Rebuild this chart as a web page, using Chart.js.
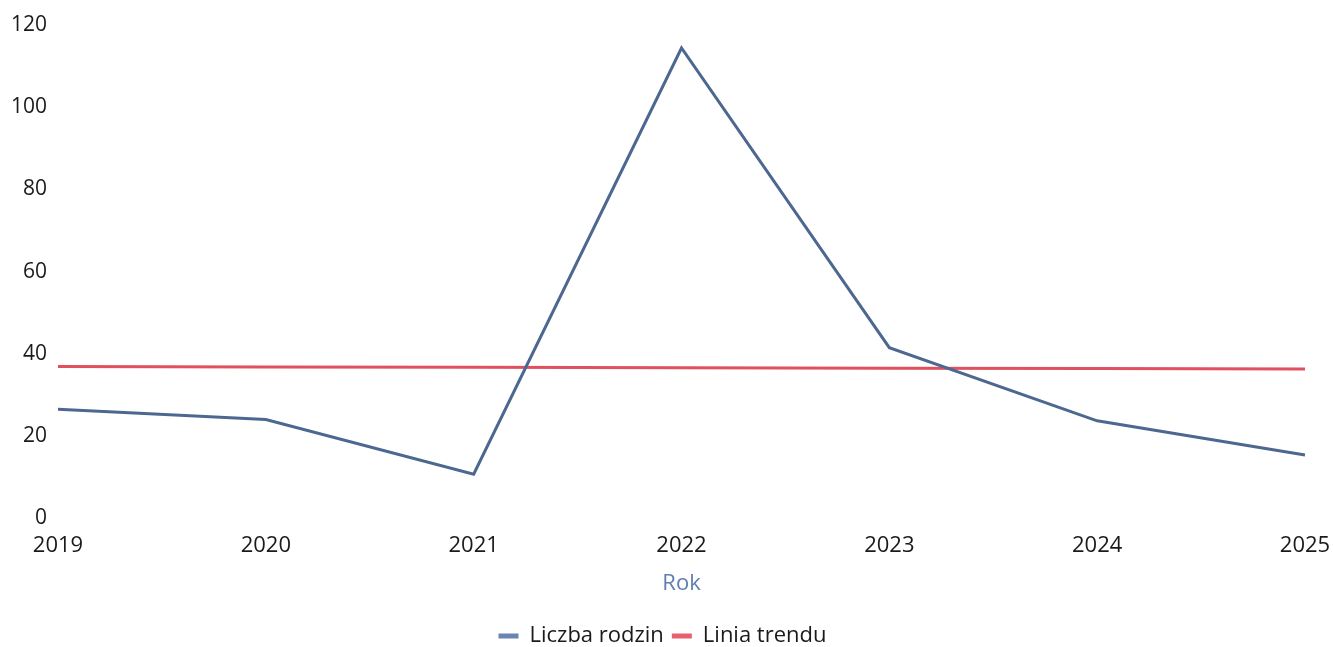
<!DOCTYPE html>
<html>
<head>
<meta charset="utf-8">
<script src="https://cdn.jsdelivr.net/npm/chart.js@4"></script>
<style>
  html, body { margin: 0; padding: 0; background: #fff; }
  #wrap { width: 1333px; height: 647px; }
</style>
</head>
<body>
<div id="wrap"><canvas id="myChart"></canvas></div>
<script>
// Data
const years = ['2019', '2020', '2021', '2022', '2023', '2024', '2025'];
const familyCount = [26.5, 24, 10.7, 114.4, 41.5, 23.7, 15.4];
const trendLine = [36.9, 36.8, 36.7, 36.6, 36.5, 36.4, 36.3];
const yTicks = [0, 20, 40, 60, 80, 100, 120];

const font = "'Open Sans', 'Noto Sans', sans-serif";
const legendFill = ['#6a86b0', '#e8606e'];

const ctx = document.getElementById('myChart').getContext('2d');
const chart = new Chart(ctx, {
	type: 'line',
	data: {
		labels: years,
		datasets: [{
			label: 'Liczba rodzin',
			data: familyCount,
			borderColor: '#4d6890',
			backgroundColor: '#6a86b0',
			borderWidth: 3,
			pointRadius: 0,
			tension: 0
		}, {
			label: 'Linia trendu',
			data: trendLine,
			borderColor: '#e0505f',
			backgroundColor: '#e8606e',
			borderWidth: 3,
			pointRadius: 0,
			tension: 0
		}]
	},
	options: {
		responsive: true,
		maintainAspectRatio: false,
		animation: false,
		layout: { padding: { top: 25, right: 8, left: 0, bottom: -10 } },
		plugins: {
			legend: {
				position: 'bottom',
				labels: {
					color: '#1a1a1a',
					font: { family: font, size: 22 },
					boxWidth: 20,
					boxHeight: 5,
					padding: 8,
					generateLabels: c => Chart.defaults.plugins.legend.labels.generateLabels(c).map((item, i) => {
						item.fillStyle = legendFill[i];
						item.lineWidth = 0;
						return item;
					})
				}
			},
			tooltip: { enabled: false }
		},
		scales: {
			x: {
				grid: { display: false },
				border: { display: false },
				afterFit: s => { s.paddingRight = 28; },
				ticks: {
					color: '#1a1a1a',
					font: { family: font, size: 22 },
					maxRotation: 0,
					padding: 6
				},
				title: {
					display: true,
					text: 'Rok',
					color: '#5f7fb0',
					font: { family: font, size: 22 },
					padding: { top: 6, bottom: 20 }
				}
			},
			y: {
				min: 0,
				max: 120,
				afterBuildTicks: axis => { axis.ticks = yTicks.map(v => ({ value: v })); },
				afterFit: s => { s.width = 58; },
				grid: { display: false },
				border: { display: false },
				ticks: {
					color: '#1a1a1a',
					font: { family: font, size: 21 },
					padding: 3
				}
			}
		}
	}
});
</script>
</body>
</html>
